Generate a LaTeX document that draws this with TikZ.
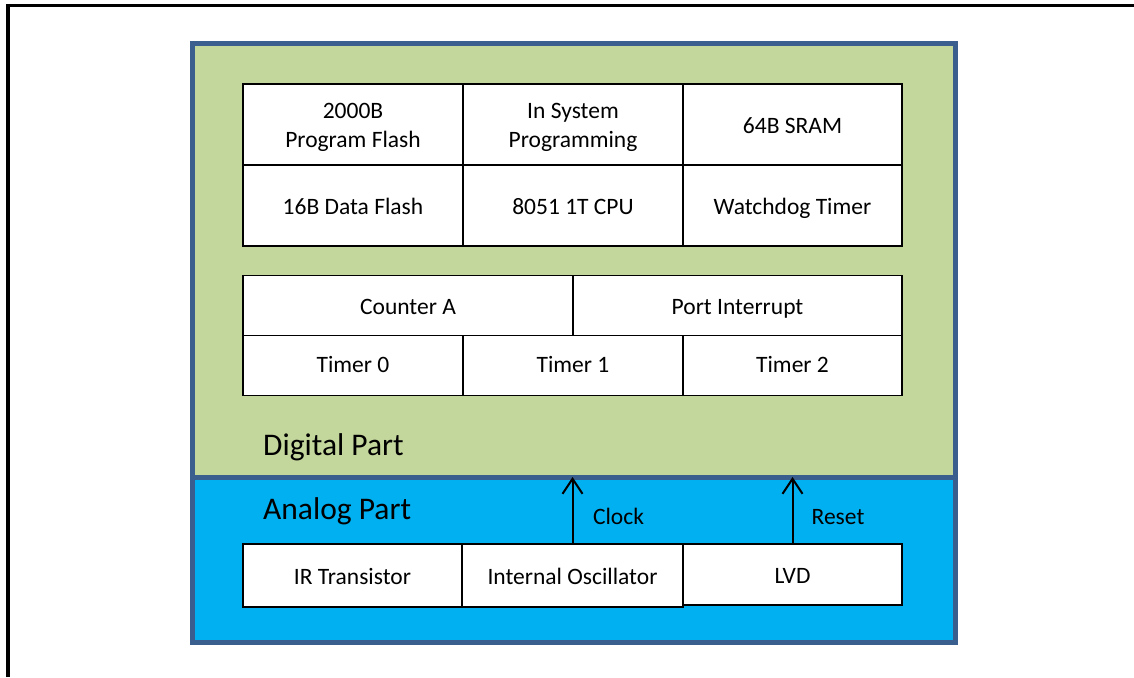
\documentclass[tikz,border=0pt]{standalone}
\usepackage{fontspec}
\setmainfont{Carlito}
\usetikzlibrary{arrows.meta}
\definecolor{digfill}{HTML}{C3D69B}
\definecolor{anafill}{HTML}{00B0F0}
\definecolor{frameblue}{HTML}{3A5F8E}
\tikzset{
  cell/.style={draw=black, line width=1.3pt, fill=white, rectangle, inner sep=0pt,
    font=\fontsize{23.5}{29}\selectfont, text height=19pt, text depth=1pt},
  cell2/.style={draw=black, line width=1.3pt, fill=white, rectangle, inner sep=0pt, align=center,
    font=\fontsize{23.5}{29}\selectfont},
  lowcell/.style={text height=16pt, text depth=2pt},
  parttitle/.style={anchor=base west, inner sep=0pt, font=\fontsize{31.5}{36}\selectfont},
  sig/.style={anchor=base, inner sep=0pt, font=\fontsize{23.5}{29}\selectfont},
  arr/.style={draw=black, line width=2pt, -{Straight Barb[length=15pt,width=20pt,line width=2pt]}}
}
\begin{document}
\begin{tikzpicture}[x=1pt,y=-1pt]
\useasboundingbox (0,0) rectangle (1134,677);
% outer black frame (left and top visible)
\draw[line width=3.2pt] (8,677) -- (8,5.5) -- (1134,5.5);
% main block
\fill[digfill] (192,44) rectangle (955,477);
\fill[anafill] (192,477) rectangle (955,642);
\draw[frameblue, line width=5pt] (192,477) -- (955,477);
\coordinate (div) at (573,477);
\draw[frameblue, line width=5pt] (192,44) rectangle (955,642);
% top grid
\node[cell2, minimum width=220pt, minimum height=81pt] (pf) at (353,124.5) {\rule{0pt}{21pt}2000B\\Program Flash};
\node[cell2, minimum width=220pt, minimum height=81pt] (isp) at (573,124.5) {\rule{0pt}{21pt}In System\\Programming};
\node[cell, minimum width=219pt, minimum height=81pt] (sram) at (792.5,124.5) {64B SRAM};
\node[cell, minimum width=220pt, minimum height=81pt] (df) at (353,205.5) {16B Data Flash};
\node[cell, minimum width=220pt, minimum height=81pt] (cpu) at (573,205.5) {8051 1T CPU};
\node[cell, minimum width=219pt, minimum height=81pt] (wdt) at (792.5,205.5) {Watchdog Timer};
% second grid
\node[cell, minimum width=330pt, minimum height=60pt] (cnt) at (408,305.5) {Counter A};
\node[cell, minimum width=329pt, minimum height=60pt] (pint) at (737.5,305.5) {Port Interrupt};
\node[cell, lowcell, minimum width=220pt, minimum height=60pt] (t0) at (353,365.5) {Timer 0};
\node[cell, lowcell, minimum width=220pt, minimum height=60pt] (t1) at (573,365.5) {Timer 1};
\node[cell, lowcell, minimum width=219pt, minimum height=60pt] (t2) at (792.5,365.5) {Timer 2};
% part titles
\node[parttitle] (dig) at (263,455) {Digital Part};
\node[parttitle] (ana) at (263,519) {Analog Part};
% analog blocks
\node[cell, minimum width=219pt, minimum height=63pt] (ir) at (352.5,575.5) {IR Transistor};
\node[cell, minimum width=221pt, minimum height=63pt] (osc) at (572.5,575.5) {Internal Oscillator};
\node[cell, minimum width=219pt, minimum height=61pt] (lvd) at (792.5,574.5) {LVD};
% signals
\draw[arr] (osc.north) -- (osc.north |- div);
\draw[arr] (lvd.north) -- (lvd.north |- div);
\node[sig] (clk) at (618.5,524) {Clock};
\node[sig] (rst) at (838,524) {Reset};
\end{tikzpicture}
\end{document}
